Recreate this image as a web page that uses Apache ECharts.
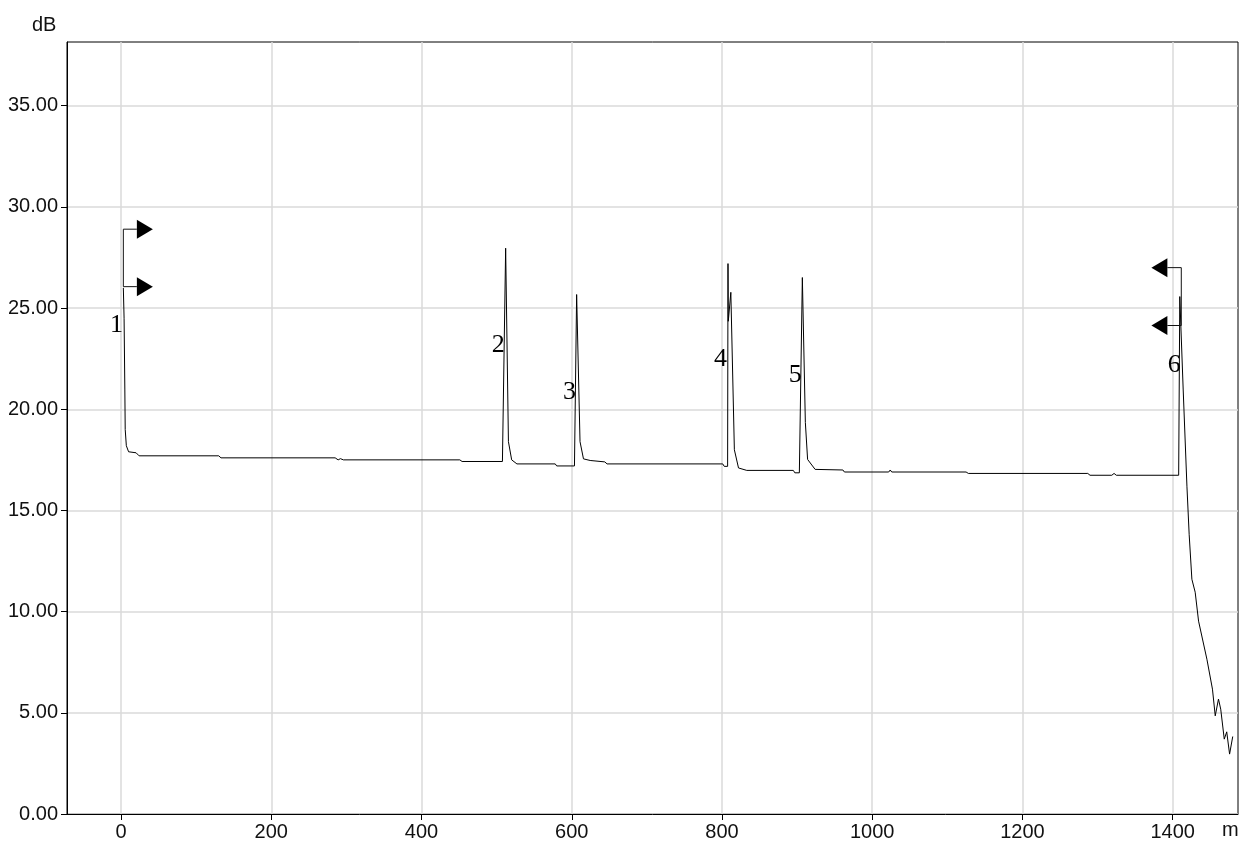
<!DOCTYPE html>
<html>
<head>
<meta charset="utf-8">
<title>OTDR trace</title>
<script src="https://cdn.jsdelivr.net/npm/echarts@6/dist/echarts.min.js"></script>
<style>
  html, body { margin: 0; padding: 0; background: #fff; }
  #chart { width: 1240px; height: 842px; }
</style>
</head>
<body>
<div id="chart"></div>
<script>
// trace: distance in m, level in dB
const traceX = [3, 4, 5, 5.5, 7, 10, 20, 24, 130, 133, 285, 289, 292, 296, 451, 454,
  507.7, 512, 515.7, 520, 527, 578, 580, 603.6, 606.5, 611, 615.6, 624.5, 644, 647,
  801, 803, 807.5, 808, 808.4, 811.8, 816.5, 822, 833, 895, 897, 903, 907, 911, 914, 924,
  961, 963, 1022, 1024, 1026, 1125, 1128, 1287, 1290, 1319, 1322, 1325, 1408,
  1409.5, 1414, 1419, 1422, 1425.6, 1430, 1434.5, 1445.6, 1453, 1456.7, 1461, 1464,
  1468.7, 1472, 1475.8, 1480];
const traceY = [26.0, 24.5, 21.0, 19.0, 18.2, 17.9, 17.85, 17.7, 17.7, 17.6, 17.6, 17.5, 17.56, 17.5, 17.5, 17.42,
  17.42, 27.96, 18.4, 17.5, 17.3, 17.3, 17.2, 17.2, 25.67, 18.4, 17.55, 17.47, 17.4, 17.3,
  17.3, 17.18, 17.18, 27.2, 24.35, 25.78, 18.0, 17.1, 16.98, 16.98, 16.86, 16.86, 26.51, 19.35, 17.52, 17.03,
  17.0, 16.9, 16.9, 17.0, 16.9, 16.9, 16.83, 16.83, 16.74, 16.74, 16.83, 16.74, 16.74,
  25.57, 21.0, 16.2, 13.8, 11.6, 10.96, 9.53, 7.65, 6.17, 4.85, 5.68, 5.18,
  3.7, 4.06, 2.96, 3.83];

// event numbers and where they are written
const eventNames = ['1', '2', '3', '4', '5', '6'];
const eventX = [-6, 502, 597, 798, 897.5, 1402];
const eventY = [24.14, 23.15, 20.85, 22.46, 21.67, 22.16];

// cursor brackets
const cursorLeftX = 3;
const cursorLeftArm = 21;
const cursorLeftLevels = [28.9, 26.06];
const cursorRightX = 1411.5;
const cursorRightArm = 1393;
const cursorRightLevels = [27.0, 24.14];

const xTicks = [0, 200, 400, 600, 800, 1000, 1200, 1400];
const yTicks = [0, 5, 10, 15, 20, 25, 30, 35];

const labelFont = { fontFamily: 'Liberation Sans, Arial, sans-serif', fontSize: 20, color: '#111' };

function bracket(x, arm, levels) {
  return [[arm, levels[0]], [x, levels[0]], [x, levels[1]], [arm, levels[1]]];
}

const chart = echarts.init(document.getElementById('chart'), null, { renderer: 'canvas' });

chart.setOption({
  animation: false,
  backgroundColor: '#fff',
  grid: {
    left: 67, top: 42, right: 2, bottom: 27,
    show: true, borderColor: '#000', borderWidth: 1
  },
  xAxis: {
    type: 'value',
    min: -72,
    max: 1487,
    axisLine: { onZero: false, lineStyle: { color: '#000', width: 1 } },
    axisTick: { show: true, length: 6, customValues: xTicks, lineStyle: { color: '#000' } },
    axisLabel: Object.assign({ margin: 8, customValues: xTicks, formatter: v => String(v) }, labelFont),
    splitLine: { show: true, lineStyle: { color: '#dadada', width: 1.5 } }
  },
  yAxis: {
    type: 'value',
    min: 0,
    max: 38.15,
    axisLine: { show: true, onZero: false, lineStyle: { color: '#000', width: 1 } },
    axisTick: { show: true, length: 6, customValues: yTicks, lineStyle: { color: '#000' } },
    axisLabel: Object.assign({ margin: 9, customValues: yTicks, formatter: v => v.toFixed(2) }, labelFont),
    splitLine: { show: true, lineStyle: { color: '#dadada', width: 1.5 } }
  },
  graphic: [
    { type: 'text', left: 32, top: 15, style: { text: 'dB', fill: '#111', font: '20px Liberation Sans, Arial, sans-serif' } },
    { type: 'text', left: 1222, top: 820, style: { text: 'm', fill: '#111', font: '20px Liberation Sans, Arial, sans-serif' } }
  ],
  series: [
    {
      name: 'trace',
      type: 'line',
      data: traceX.map((x, i) => [x, traceY[i]]),
      showSymbol: false,
      symbol: 'none',
      lineStyle: { color: '#000', width: 1 },
      z: 3
    },
    {
      name: 'cursor A',
      type: 'line',
      data: bracket(cursorLeftX, cursorLeftArm, cursorLeftLevels),
      symbol: 'none',
      lineStyle: { color: '#111', width: 1 },
      z: 4
    },
    {
      name: 'cursor B',
      type: 'line',
      data: bracket(cursorRightX, cursorRightArm, cursorRightLevels),
      symbol: 'none',
      lineStyle: { color: '#111', width: 1 },
      z: 4
    },
    {
      name: 'arrows A',
      type: 'scatter',
      data: cursorLeftLevels.map(v => [cursorLeftArm, v]),
      symbol: 'triangle',
      symbolSize: [19, 16],
      symbolRotate: -90,
      symbolOffset: [8, 0],
      itemStyle: { color: '#000', opacity: 1 },
      z: 5
    },
    {
      name: 'arrows B',
      type: 'scatter',
      data: cursorRightLevels.map(v => [cursorRightArm, v]),
      symbol: 'triangle',
      symbolSize: [19, 16],
      symbolRotate: 90,
      symbolOffset: [-8, 0],
      itemStyle: { color: '#000', opacity: 1 },
      z: 5
    },
    {
      name: 'events',
      type: 'scatter',
      data: eventX.map((x, i) => ({ value: [x, eventY[i]], name: eventNames[i] })),
      symbolSize: 1,
      itemStyle: { color: 'rgba(0,0,0,0)', opacity: 1 },
      label: {
        show: true,
        position: 'inside',
        formatter: p => p.name,
        fontFamily: 'Liberation Serif, Times New Roman, serif',
        fontSize: 26,
        color: '#000',
        opacity: 1
      },
      z: 6
    }
  ]
});
</script>
</body>
</html>
